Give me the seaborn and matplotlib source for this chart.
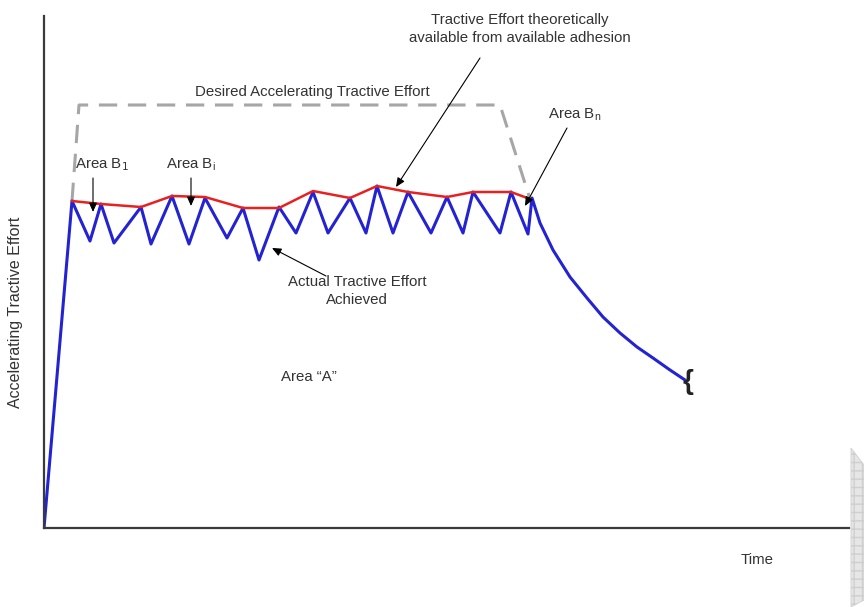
import matplotlib
matplotlib.use("Agg")
import matplotlib.pyplot as plt
import seaborn as sns
from matplotlib.patches import Polygon

sns.set_theme(style="white")
plt.rcParams['font.family'] = ['Liberation Sans', 'DejaVu Sans']

# ---- data (time, effort) ----
actual_t = [0, 28, 46, 57, 70, 97, 107, 128, 145, 161, 183, 199, 215, 235, 252, 269, 284, 306, 322, 333, 349, 364, 387, 403, 419, 429, 456, 467, 484, 488,
            496, 509, 526, 543, 559, 576, 593, 609, 626, 641]
actual_e = [0, 327, 287, 324, 285, 321, 284, 332, 284, 330, 290, 320, 268, 321, 295, 336, 295, 330, 295, 342, 295, 336, 295, 331, 295, 336, 295, 336, 294, 330,
            305, 278, 251, 230, 211, 195, 181, 170, 158, 148]

adhesion_t = [28, 57, 97, 128, 161, 199, 235, 269, 306, 333, 364, 403, 429, 467, 486]
adhesion_e = [327, 324, 321, 332, 331, 320, 320, 337, 330, 342, 336, 331, 336, 336, 329]

desired_t = [28, 35, 456, 486]
desired_e = [327, 423, 423, 329]

fig = plt.figure(figsize=(8.64, 6.07), dpi=100)
W, H = 864, 607
ax = fig.add_axes([44 / W, (H - 528) / H, (849 - 44) / W, (528 - 16) / H])

sns.lineplot(x=desired_t, y=desired_e, sort=False, ax=ax, color="#a6a6a6", lw=2.2,
             linestyle=(0, (6, 3.5)))
sns.lineplot(x=actual_t, y=actual_e, sort=False, ax=ax, color="#2323d2", lw=2.2)
sns.lineplot(x=adhesion_t, y=adhesion_e, sort=False, ax=ax, color="#e82020", lw=1.8)

ax.set_xlim(0, 805)
ax.set_ylim(0, 512)
ax.set_xticks([])
ax.set_yticks([])
for s in ["top", "right"]:
    ax.spines[s].set_visible(False)
for s in ["left", "bottom"]:
    ax.spines[s].set_color("#3a3a3a")
    ax.spines[s].set_linewidth(1.6)
ax.set_xlabel("")
ax.set_ylabel("")
ax.patch.set_alpha(0)

tc = "#333333"
fs = 10.8

def P(px, py):
    return (px - 44, 528 - py)

ap = dict(arrowstyle="-|>,head_length=0.45,head_width=0.2", color="black", lw=0.8, shrinkA=0, shrinkB=0)

ax.text(*P(520, 29), "Tractive Effort theoretically\navailable from available adhesion",
        ha="center", va="center", fontsize=fs, color=tc, linespacing=1.45)
ax.annotate("", xy=P(396, 187), xytext=P(480, 58), arrowprops=ap)

ax.text(*P(312, 92), "Desired Accelerating Tractive Effort", ha="center", va="center", fontsize=fs, color=tc)

ax.text(*P(75, 165), "Area B$_1$", ha="left", va="center", fontsize=fs, color=tc)
ax.annotate("", xy=P(93, 212), xytext=P(93, 178), arrowprops=ap)

ax.text(*P(166, 165), "Area B$_\\mathregular{i}$", ha="left", va="center", fontsize=fs, color=tc)
ax.annotate("", xy=P(191, 206), xytext=P(191, 178), arrowprops=ap)

ax.text(*P(548, 115), "Area B$_\\mathregular{n}$", ha="left", va="center", fontsize=fs, color=tc)
ax.annotate("", xy=P(525, 206), xytext=P(567, 128), arrowprops=ap)

ax.text(*P(357, 291), "Actual Tractive Effort\nAchieved", ha="center", va="center", fontsize=fs,
        color=tc, linespacing=1.45)
ax.annotate("", xy=P(272, 248), xytext=P(326, 276), arrowprops=ap)

ax.text(*P(309, 377), "Area \u201cA\u201d", ha="center", va="center", fontsize=fs, color=tc)
ax.text(*P(688, 382), "{", ha="center", va="center", fontsize=20, color="#222222", fontweight="bold")
ax.text(*P(757, 560), "Time", ha="center", va="center", fontsize=fs, color=tc, clip_on=False)

fig.text(16 / W, 1 - 312 / H, "Accelerating Tractive Effort", rotation=90, ha="center", va="center",
         fontsize=11.5, color=tc)

# decorative grey grid tab at the bottom-right edge
fx = lambda px: px / W
fy = lambda py: 1 - py / H
poly = Polygon([(fx(851), fy(448)), (fx(864), fy(465)), (fx(864), fy(600)), (fx(851), fy(607))],
               closed=True, transform=fig.transFigure, facecolor="#e6e6e6", edgecolor="#cfcfcf",
               lw=0.6, hatch="++", zorder=0)
fig.patches.append(poly)

fig.savefig("out.png", dpi=100)
